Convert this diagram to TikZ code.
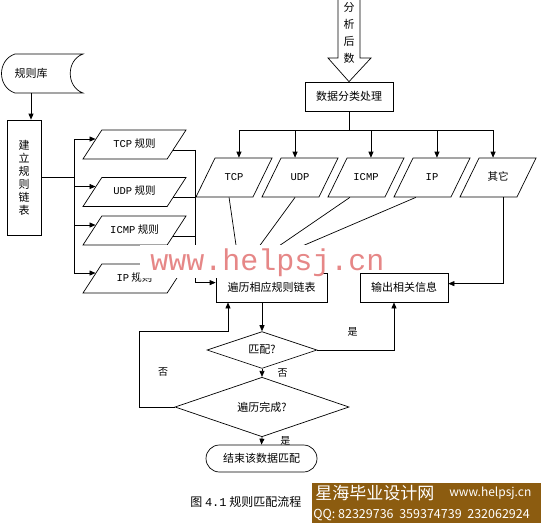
\documentclass[tikz,border=0pt]{standalone}
\usepackage{fontspec}
\setmainfont{Noto Sans CJK SC}
\newfontfamily\monofont{Liberation Mono}
\usetikzlibrary{arrows.meta, calc, shapes.geometric}
\definecolor{bannerbrown}{RGB}{140,92,16}
\definecolor{markpink}  {RGB}{230,135,135}

\tikzset{
  procbox/.style={draw, minimum height=29pt, inner sep=1pt, font=\fontsize{11}{13}\selectfont},
  ioleft/.style={draw, trapezium, trapezium left angle=57, trapezium right angle=123,
    trapezium stretches body, minimum width=103pt, text height=8pt, text depth=3pt,
    inner xsep=1pt, inner ysep=9pt, font=\fontsize{10.5}{12}\selectfont},
  iotop/.style={draw, trapezium, trapezium left angle=64, trapezium right angle=116,
    trapezium stretches body, minimum width=76pt, text height=8pt, text depth=3pt,
    inner xsep=1pt, inner ysep=14pt, font=\fontsize{10.5}{12}\selectfont},
  decision/.style={draw, diamond, inner sep=0pt, font=\fontsize{11}{13}\selectfont},
  yesno/.style={font=\fontsize{10}{12}\selectfont},
}

\begin{document}
\begin{tikzpicture}[x=1pt, y=-1pt, line width=0.7pt, >={Triangle[length=6pt,width=5pt]}]
  \useasboundingbox (0,0) rectangle (541,523);
  % incoming data
  \node[procbox, minimum width=88pt] (cls) at (349,96.5) {数据分类处理};
  \filldraw[fill=white] (338,-5) -- (338,58) -- (328,58) -- (cls.north) -- (371,58) -- (360,58) -- (360,-5);
  \node[align=center, inner sep=0pt, font=\fontsize{11}{17}\selectfont] (feed) at (349,32.5) {分\\析\\后\\数};
  % rule base
  \draw (15,54) -- (83,54) .. controls (66,60) and (66,87) .. (83,93)
    -- (15,93) .. controls (-3,87) and (-3,60) .. cycle;
  \node[minimum height=39pt, inner sep=0pt, font=\fontsize{11}{13}\selectfont] (ruledb) at (31,73.5) {规则库};
  \node[procbox, minimum width=34pt, minimum height=115pt, align=center] (build) at (24,177.5) {建\\立\\规\\则\\链\\表};
  \draw[->] (ruledb.south) -- (ruledb.south |- build.north);
  % rule lists
  \node[ioleft] (tcpr)  at (134.5,144.5) {{\monofont TCP} 规则};
  \node[ioleft] (udpr)  at (134.5,192)   {{\monofont UDP} 规则};
  \node[ioleft] (icmpr) at (134.5,230.5) {{\monofont ICMP} 规则};
  \node[ioleft] (ipr)   at (134.5,278.5) {{\monofont IP} 规则};
  \coordinate (spL) at (74,177.5);
  \coordinate (spR) at (195,0);
  \draw (build.east) -- (spL);
  \draw (spL |- tcpr.172) -- (spL |- ipr.172);
  \foreach \rl in {tcpr,udpr,icmpr,ipr}
    \draw[->] (spL |- \rl.172) -- (\rl.172);
  \foreach \rl in {tcpr,udpr,icmpr}
    \draw (\rl.-8) -- (spR |- \rl.-8);
  \draw (ipr.5) -- (spR |- ipr.5);
  % traverse / output
  \node[procbox, minimum width=111pt] (trav) at (271.5,287.5) {遍历相应规则链表};
  \node[procbox, minimum width=88pt]  (out)  at (404,287.5)   {输出相关信息};
  \draw[->] (spR |- tcpr.-8) -- (spR |- trav.175) -- (trav.175);
  % categories
  \node[iotop] (tcp)   at (234,177.5) {\monofont TCP};
  \node[iotop] (udp)   at (300,177.5) {\monofont UDP};
  \node[iotop] (icmp)  at (366,177.5) {\monofont ICMP};
  \node[iotop] (ip)    at (432,177.5) {\monofont IP};
  \node[iotop] (other) at (498,177.5) {其它};
  \coordinate (hub) at (349,130);
  \draw (cls.south) -- (hub);
  \draw (tcp.76 |- hub) -- (other.104 |- hub);
  \foreach \n/\a in {tcp/76, udp/104, icmp/76, ip/76, other/104}
    \draw[->] (\n.\a |- hub) -- (\n.\a);
  \coordinate (merge) at ($(trav.north)+(-31.5,0)$);
  \foreach \n/\a in {tcp/-104, udp/-104, icmp/-129, ip/-129}
    \draw (\n.\a) -- (merge);
  \draw[->] (other.-76) -- (other.-76 |- out.5) -- (out.5);
  % decisions
  \node[decision, minimum width=110pt, minimum height=36pt] (match) at (262,350) {匹配?};
  \node[decision, minimum width=174pt, minimum height=38pt] (done)  at (262,407) {遍历完成?};
  \node[procbox, rounded corners=13.5pt, minimum width=111pt, minimum height=27pt] (finish) at (261.5,458.5) {结束该数据匹配};
  \draw[->] (match.north |- trav.south) -- (match.north);
  \draw[->] (match.east) -| ($(out.south)+(-10,0)$) node[yesno, pos=0.23, above=10pt] {是};
  \draw[->] (match.south) -- (done.north) node[yesno, midway, right=12pt] {否};
  \coordinate (back) at (139,331);
  \draw[->] (done.west) -| (back) -| ($(trav.south)+(-43.5,0)$);
  \node[yesno] (nolabel) at (163,372) {否};
  \draw[->] (done.south) -- (finish.north) node[yesno, midway, right=15pt] {是};
  % caption
  \node[anchor=west, inner sep=0pt, font=\fontsize{12}{14}\selectfont] (cap) at (190,502) {图 {\monofont 4.1} 规则匹配流程};
  % watermark
  \fill[white] (140,245) rectangle (322,278);
  \node[anchor=base west, inner sep=0pt, text=markpink, font=\monofont\fontsize{30}{30}\selectfont] (mark) at (150,270) {www.helpsj.cn};
  % banner
  \node[anchor=north west, fill=bannerbrown, minimum width=229pt, minimum height=40pt, inner sep=0pt] (banner) at (312,483) {};
  \node[anchor=west, inner sep=0pt, text=white, font=\fontsize{17}{17}\selectfont] (bname) at (315,493) {星海毕业设计网};
  \node[anchor=west, inner sep=0pt, text=white, font=\fontsize{12}{12}\selectfont] (burl) at (449,493) {www.helpsj.cn};
  \node[anchor=west, inner sep=0pt, text=white, font=\fontsize{12.5}{13}\selectfont] (bqq) at (313,515) {QQ: 82329736\ \ 359374739\ \ 232062924};
\end{tikzpicture}
\end{document}
